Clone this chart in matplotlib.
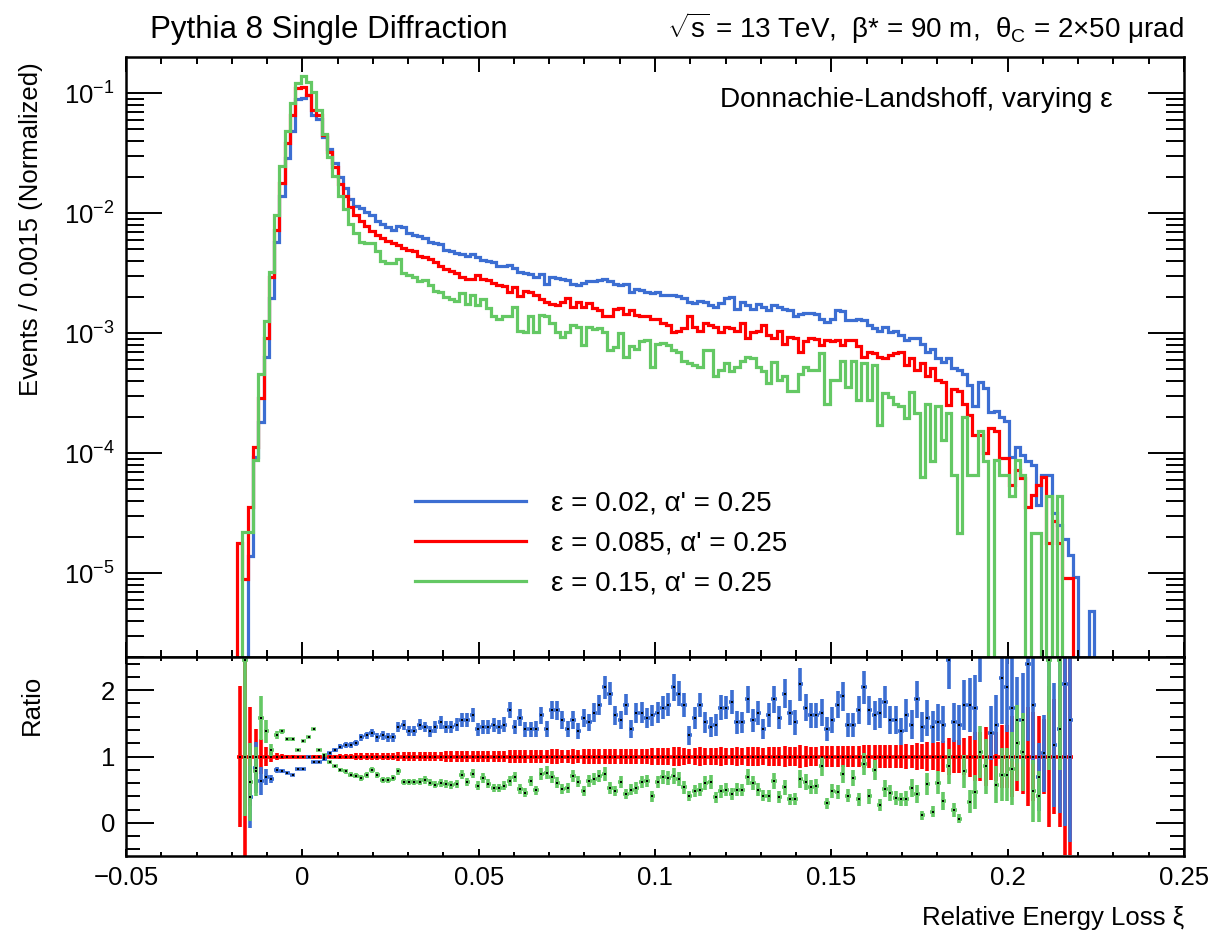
import numpy as np
import matplotlib
matplotlib.use("Agg")
import matplotlib.pyplot as plt
from matplotlib.lines import Line2D
from matplotlib.ticker import MultipleLocator, LogLocator, NullFormatter

plt.rcParams["font.family"] = ["Liberation Sans", "DejaVu Sans"]
plt.rcParams["mathtext.fontset"] = "custom"
plt.rcParams["mathtext.rm"] = "Liberation Sans"
plt.rcParams["mathtext.it"] = "Liberation Sans:italic"
plt.rcParams["mathtext.default"] = "regular"

# ---------------------------------------------------------------------------
# data: log10(normalized events per 0.0015 bin), bins start at xi = -0.0185
# None = empty bin
# ---------------------------------------------------------------------------
bin_width = 0.0015
first_edge = -0.0185
n_events = 50000  # effective statistics used for the error bars

labels = ["ε = 0.02, α' = 0.25", "ε = 0.085, α' = 0.25", "ε = 0.15, α' = 0.25"]
colors = ["#3c6ed2", "#ff0000", "#64c864"]

log_eps002 = [
    None, None, -4.86, -4.03, -3.74, -3.20, -2.71, -2.24, -1.86, -1.54,
    -1.32, -1.05, -1.04, -1.02, -1.18, -1.22, -1.37, -1.47, -1.58, -1.70,
    -1.79, -1.88, -1.94, -1.96, -1.99, -2.02, -2.07, -2.09, -2.12, -2.14,
    -2.11, -2.12, -2.17, -2.18, -2.19, -2.21, -2.24, -2.25, -2.26, -2.31,
    -2.32, -2.33, -2.34, -2.36, -2.34, -2.37, -2.39, -2.40, -2.41, -2.44,
    -2.44, -2.43, -2.46, -2.49, -2.50, -2.51, -2.53, -2.51, -2.59, -2.53,
    -2.54, -2.55, -2.56, -2.59, -2.60, -2.58, -2.57, -2.57, -2.56, -2.55,
    -2.57, -2.59, -2.60, -2.59, -2.66, -2.63, -2.64, -2.66, -2.67, -2.66,
    -2.68, -2.68, -2.68, -2.69, -2.71, -2.74, -2.75, -2.73, -2.74, -2.77,
    -2.78, -2.75, -2.71, -2.70, -2.80, -2.74, -2.77, -2.80, -2.76, -2.78,
    -2.81, -2.77, -2.78, -2.80, -2.81, -2.86, -2.84, -2.83, -2.83, -2.84,
    -2.88, -2.91, -2.88, -2.81, -2.82, -2.89, -2.89, -2.88, -2.89, -2.93,
    -2.96, -2.98, -2.95, -2.99, -2.98, -3.02, -3.06, -3.04, -3.04, -3.09,
    -3.16, -3.13, -3.21, -3.24, -3.21, -3.29, -3.31, -3.34, -3.43, -3.61,
    -3.41, -3.46, -3.66, -3.65, -3.70, -3.73, -4.03, -3.95, -4.02, -4.07,
    -4.10, -4.43, -4.18, -4.18, -4.50, -4.60, -4.72, -4.85, -5.03, None,
    None, -5.32,
]

log_eps0085 = [
    -4.75, -5.05, -4.45, -3.95, -3.54, -3.04, -2.53, -2.14, -1.75, -1.42,
    -1.18, -0.96, -0.95, -1.02, -1.14, -1.18, -1.35, -1.49, -1.62, -1.76,
    -1.86, -1.95, -2.02, -2.07, -2.11, -2.15, -2.18, -2.21, -2.23, -2.25,
    -2.27, -2.29, -2.31, -2.32, -2.36, -2.37, -2.38, -2.41, -2.44, -2.47,
    -2.48, -2.50, -2.53, -2.55, -2.55, -2.52, -2.55, -2.56, -2.58, -2.60,
    -2.61, -2.66, -2.62, -2.69, -2.65, -2.66, -2.68, -2.72, -2.74, -2.76,
    -2.77, -2.74, -2.71, -2.78, -2.74, -2.78, -2.75, -2.79, -2.81, -2.86,
    -2.86, -2.80, -2.79, -2.84, -2.81, -2.85, -2.86, -2.86, -2.88, -2.88,
    -2.92, -2.93, -2.99, -2.98, -2.96, -2.86, -2.95, -2.98, -2.92, -2.93,
    -2.95, -2.99, -2.95, -2.96, -2.98, -2.92, -3.04, -2.99, -2.98, -2.93,
    -3.02, -3.04, -2.98, -3.09, -3.03, -3.04, -3.16, -3.07, -3.04, -3.05,
    -3.10, -3.06, -3.07, -3.06, -3.10, -3.06, -3.06, -3.11, -3.20, -3.16,
    -3.17, -3.20, -3.21, -3.18, -3.17, -3.16, -3.27, -3.21, -3.31, -3.25,
    -3.36, -3.29, -3.39, -3.41, -3.60, -3.47, -3.48, -3.59, -3.68, -3.85,
    -3.85, -4.00, -3.79, -3.82, -4.04, -4.04, -4.27, -4.14, -4.21, -4.45,
    -4.35, -4.27, -4.20, -4.75, -4.57, -4.75, -5.04, -5.04, None, None,
    None, None,
]

log_eps015 = [
    None, -4.66, -4.66, -4.06, -3.34, -2.90, -2.49, -2.02, -1.61, -1.32,
    -1.08, -0.92, -0.86, -0.91, -0.99, -1.14, -1.34, -1.53, -1.69, -1.86,
    -1.97, -2.09, -2.17, -2.24, -2.25, -2.25, -2.32, -2.40, -2.42, -2.42,
    -2.38, -2.50, -2.52, -2.53, -2.57, -2.56, -2.60, -2.65, -2.66, -2.70,
    -2.72, -2.73, -2.67, -2.76, -2.68, -2.77, -2.72, -2.79, -2.86, -2.88,
    -2.86, -2.86, -2.78, -2.98, -2.99, -2.86, -2.99, -2.85, -2.86, -2.92,
    -2.99, -3.03, -2.99, -2.93, -2.95, -3.10, -2.95, -2.97, -2.96, -2.99,
    -3.14, -3.12, -3.00, -3.20, -3.11, -3.13, -3.07, -3.06, -3.28, -3.09,
    -3.08, -3.10, -3.14, -3.16, -3.23, -3.25, -3.27, -3.28, -3.14, -3.14,
    -3.36, -3.31, -3.25, -3.32, -3.28, -3.23, -3.20, -3.21, -3.28, -3.32,
    -3.42, -3.24, -3.39, -3.36, -3.48, -3.48, -3.34, -3.28, -3.31, -3.31,
    -3.17, -3.59, -3.39, -3.39, -3.23, -3.45, -3.23, -3.56, -3.25, -3.56,
    -3.27, -3.77, -3.50, -3.53, -3.59, -3.61, -3.71, -3.49, -3.67, -4.20,
    -3.59, -4.07, -3.61, -3.89, -3.67, -4.18, -4.67, -3.70, -4.18, -4.18,
    -3.82, -4.07, None, -4.06, -4.18, -4.18, -4.36, -4.06, -4.18, None,
    -4.67, -4.67, None, -4.36, None, -4.36, None, None, None, None,
    None, None,
]

series = [log_eps002, log_eps0085, log_eps015]

# ---------------------------------------------------------------------------
edges = first_edge + bin_width * np.arange(len(log_eps0085) + 1)
centers = 0.5 * (edges[:-1] + edges[1:])
vals = [np.nan_to_num(10 ** np.array(s, dtype=float), nan=0.0) for s in series]

fig = plt.figure(figsize=(12.14, 9.35), dpi=100)
ax = fig.add_axes([0.1038, 0.2973, 0.8715, 0.6417])
axr = fig.add_axes([0.1038, 0.0845, 0.8715, 0.2128], sharex=ax)

for v, c in zip(vals, colors):
    full_edges = np.concatenate([[-0.05], edges, [0.25]])
    full_vals = np.concatenate([[0.0], v, [0.0]])
    ax.stairs(np.where(full_vals > 0, full_vals, 1e-12), full_edges,
              color=c, lw=2.3, baseline=None)

ax.set_yscale("log")
ax.set_xlim(-0.05, 0.25)
ax.set_ylim(10 ** -5.7, 10 ** -0.7)

# ratio panel: each sample divided by eps = 0.085
ref = vals[1]
draw_order = [1, 0, 2]
for i in draw_order:
    v = vals[i]
    ok = (ref > 0) & (v > 0)
    r = v[ok] / ref[ok]
    err = r / np.sqrt(v[ok] * n_events)
    axr.errorbar(centers[ok], r, yerr=err, xerr=bin_width / 2, fmt="none",
                 ecolor=colors[i], elinewidth=2.6, capsize=0)
for i in draw_order:
    v = vals[i]
    ok = (ref > 0) & (v > 0)
    axr.plot(centers[ok], v[ok] / ref[ok], "s", color="black", ms=2.0,
             mew=0, zorder=5)
axr.set_ylim(-0.5, 2.5)

# styling
for a in (ax, axr):
    for sp in a.spines.values():
        sp.set_linewidth(1.8)
    a.tick_params(which="both", direction="in", top=True, right=True,
                  width=1.4, labelsize=18.5)
    a.xaxis.set_major_locator(MultipleLocator(0.05))
    a.xaxis.set_minor_locator(MultipleLocator(0.01))

ax.tick_params(axis="x", which="major", length=10.8)
ax.tick_params(axis="x", which="minor", length=5.0)
ax.tick_params(axis="y", which="major", length=26, pad=8)
ax.tick_params(axis="y", which="minor", length=13)
ax.yaxis.set_major_locator(LogLocator(base=10, numticks=20))
ax.yaxis.set_minor_locator(LogLocator(base=10, subs=np.arange(2, 10), numticks=20))
ax.yaxis.set_minor_formatter(NullFormatter())
ax.tick_params(axis="x", labelbottom=False)

axr.tick_params(axis="x", which="major", length=5.0, pad=7)
axr.tick_params(axis="x", which="minor", length=2.9)
axr.tick_params(axis="y", which="major", length=20, pad=8)
axr.tick_params(axis="y", which="minor", length=10)
axr.yaxis.set_major_locator(MultipleLocator(1))
axr.yaxis.set_minor_locator(MultipleLocator(0.2))
axr.xaxis.set_major_formatter(plt.FuncFormatter(
    lambda x, p: "0" if abs(x) < 1e-9 else ("%g" % x).replace("-", "\u2212")))

ax.set_ylabel("Events / 0.0015 (Normalized)", fontsize=18.5, loc="top")
ax.yaxis.set_label_coords(-0.078, 0.992)
axr.set_ylabel("Ratio", fontsize=18.5, loc="top")
axr.yaxis.set_label_coords(-0.078, 0.91)
axr.set_xlabel("Relative Energy Loss ξ", fontsize=18.5, loc="right")
axr.xaxis.set_label_coords(1.0, -0.25)

fig.text(150 / 1214, 1 - 38 / 935, "Pythia 8 Single Diffraction",
         fontsize=22.5, ha="left", va="baseline")
fig.text(1184 / 1214, 1 - 38 / 935,
         r"$\sqrt{\mathrm{s}}$ = 13 TeV,  β* = 90 m,  θ$_{\mathrm{C}}$ = 2×50 μrad",
         fontsize=20, ha="right", va="baseline")
fig.text(1113 / 1214, 1 - 100 / 935, "Donnachie-Landshoff, varying ε",
         fontsize=20.2, ha="right", va="center")

handles = [Line2D([], [], color=c, lw=2.3) for c in colors]
ax.legend(handles, labels, loc="upper left", bbox_to_anchor=(415 / 1214, 1 - 491 / 935),
          bbox_transform=fig.transFigure, frameon=False, fontsize=20,
          handlelength=4.0, handletextpad=0.9, labelspacing=0.49,
          borderpad=0, borderaxespad=0)

fig.savefig("out.png", dpi=100)
